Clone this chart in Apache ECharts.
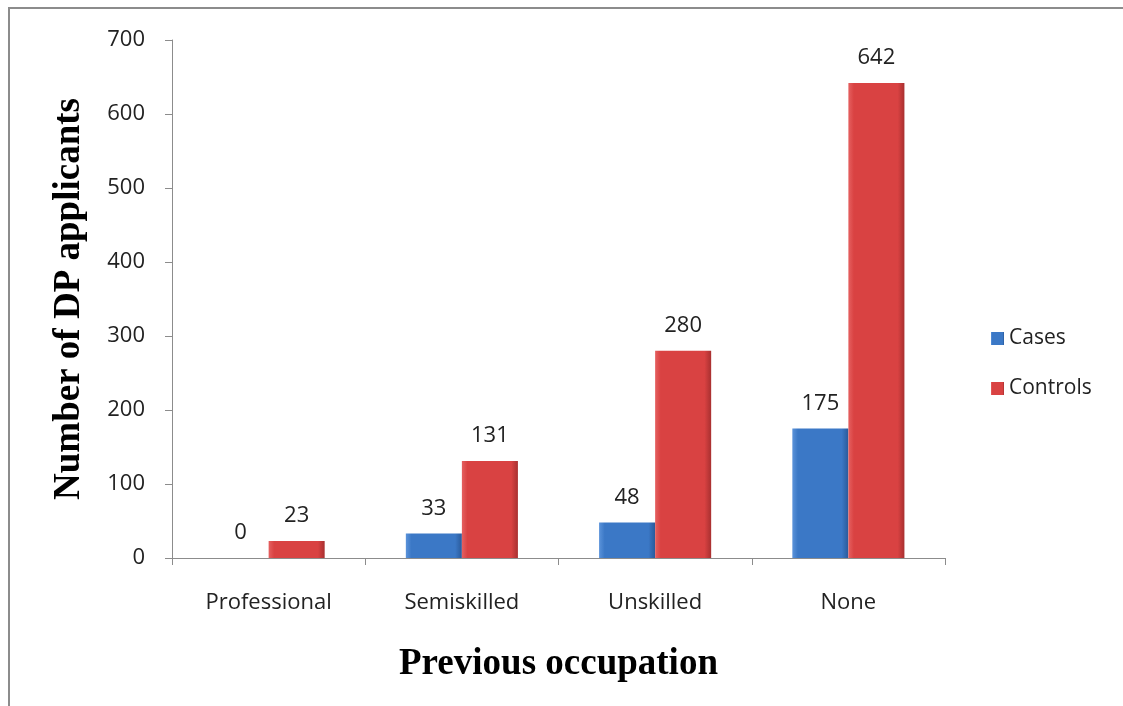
<!DOCTYPE html>
<html>
<head>
<meta charset="utf-8">
<script src="https://cdn.jsdelivr.net/npm/echarts@6/dist/echarts.min.js"></script>
<style>
  html, body { margin: 0; padding: 0; background: #fff; }
  #frame { position: absolute; left: 8px; top: 7px; width: 1115px; height: 699px;
           border-top: 2px solid #8c8c8c; border-left: 2px solid #8c8c8c; box-sizing: border-box; }
  #chart { position: absolute; left: 0; top: 0; width: 1123px; height: 706px; }
</style>
</head>
<body>
<div id="frame"></div>
<div id="chart"></div>
<script>
// Previous occupation of DP applicants
const categories = ['Professional', 'Semiskilled', 'Unskilled', 'None'];
const casesValues = [0, 33, 48, 175];
const controlsValues = [23, 131, 280, 642];
const yTicks = [0, 100, 200, 300, 400, 500, 600, 700];

const labelFont = '"Open Sans", "Noto Sans", sans-serif';
const titleFont = '"Liberation Serif", "Times New Roman", serif';

// horizontal shading gives the bars a bevelled look
function bevel(light, mid, dark) {
  return new echarts.graphic.LinearGradient(0, 0, 1, 0, [
    { offset: 0, color: light },
    { offset: 0.1, color: mid },
    { offset: 0.88, color: mid },
    { offset: 1, color: dark }
  ]);
}

const chart = echarts.init(document.getElementById('chart'), null, { renderer: 'canvas' });
chart.setOption({
  animation: false,
  grid: { left: 172, right: 178, top: 40, bottom: 148, containLabel: false },
  legend: {
    orient: 'vertical',
    left: 986,
    top: 323,
    itemWidth: 13,
    itemHeight: 13,
    itemGap: 29,
    icon: 'rect',
    textStyle: { fontFamily: labelFont, fontSize: 21, color: '#222' },
    data: ['Cases', 'Controls']
  },
  xAxis: {
    type: 'category',
    data: categories,
    name: 'Previous occupation',
    nameLocation: 'middle',
    nameGap: 88,
    nameTextStyle: { fontFamily: titleFont, fontWeight: 'bold', fontSize: 37, color: '#000' },
    axisLine: { lineStyle: { color: '#8c8c8c', width: 1 } },
    axisTick: { show: true, length: 7, lineStyle: { color: '#8c8c8c' } },
    axisLabel: { fontFamily: labelFont, fontSize: 22, color: '#222', margin: 34 }
  },
  yAxis: {
    type: 'value',
    min: 0,
    max: 700,
    interval: 100,
    name: 'Number of DP applicants',
    nameLocation: 'middle',
    nameGap: 84,
    nameTextStyle: { fontFamily: titleFont, fontWeight: 'bold', fontSize: 37, color: '#000' },
    axisLine: { show: true, lineStyle: { color: '#8c8c8c', width: 1 } },
    axisTick: { show: true, length: 7, lineStyle: { color: '#8c8c8c' } },
    splitLine: { show: false },
    axisLabel: {
      fontFamily: labelFont, fontSize: 22, color: '#222', margin: 27,
      formatter: v => yTicks.includes(v) ? String(v) : ''
    }
  },
  series: [
    {
      name: 'Cases',
      type: 'bar',
      data: casesValues,
      barGap: '0%',
      barCategoryGap: '42%',
      itemStyle: { color: bevel('#5b93da', '#3b78c6', '#2a5a9a') },
      label: { show: true, position: 'top', distance: 14, fontFamily: labelFont, fontSize: 22, color: '#222' }
    },
    {
      name: 'Controls',
      type: 'bar',
      data: controlsValues,
      itemStyle: { color: bevel('#e56060', '#d94242', '#a83030') },
      label: { show: true, position: 'top', distance: 14, fontFamily: labelFont, fontSize: 22, color: '#222' }
    }
  ]
});
</script>
</body>
</html>
